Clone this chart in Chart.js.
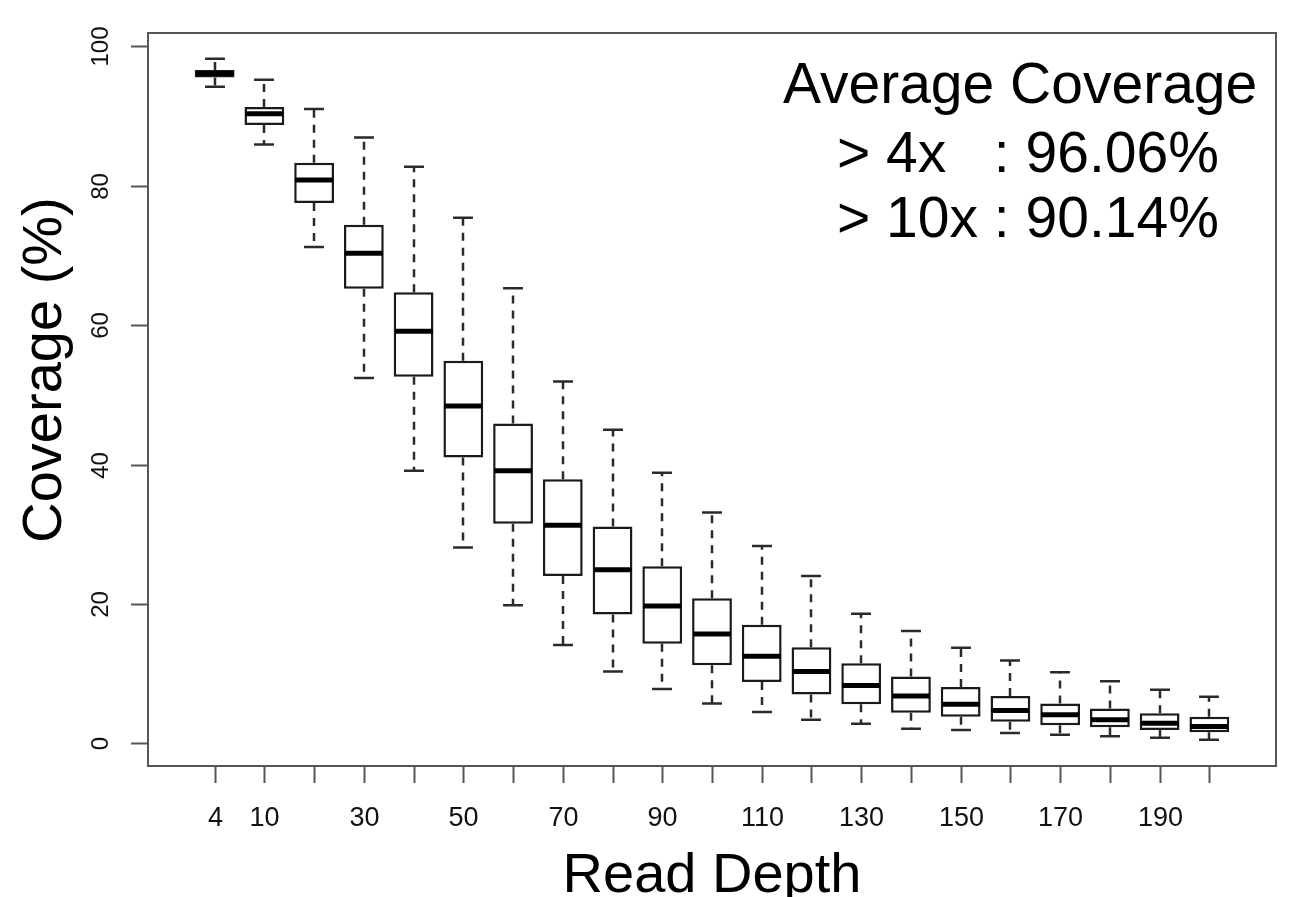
<!DOCTYPE html>
<html>
<head>
<meta charset="utf-8">
<script src="https://cdn.jsdelivr.net/npm/chart.js@4/dist/chart.umd.min.js"></script>
<style>
  html, body { margin: 0; padding: 0; background: #fff; }
  #wrap { width: 1309px; height: 897px; }
</style>
</head>
<body>
<div id="wrap"><canvas id="coverageChart" width="1309" height="897"></canvas></div>
<script>
// ------ data ------//
var depths = [4, 10, 20, 30, 40, 50, 60, 70, 80, 90, 100, 110, 120, 130, 140, 150, 160, 170, 180, 190, 200]
var xTickLabels = ['4', '10', '', '30', '', '50', '', '70', '', '90', '', '110', '', '130', '', '150', '', '170', '', '190', '']
var yTicks = [0, 20, 40, 60, 80, 100]

var whiskerLow  = [94.2, 85.9, 71.2, 52.4, 39.1, 28.1, 19.8, 14.1, 10.3, 7.8, 5.7, 4.5, 3.4, 2.8, 2.1, 1.9, 1.5, 1.25, 1.0, 0.8, 0.5]
var q1          = [95.5, 88.7, 77.5, 65.2, 52.6, 41.0, 31.5, 24.0, 18.5, 14.3, 11.2, 8.8, 7.0, 5.6, 4.4, 3.8, 3.1, 2.6, 2.3, 1.9, 1.6]
var median      = [96.1, 90.3, 80.8, 70.3, 59.1, 48.4, 39.1, 31.3, 24.9, 19.7, 15.7, 12.5, 10.3, 8.3, 6.8, 5.6, 4.7, 4.1, 3.4, 2.9, 2.4]
var q3          = [96.6, 91.3, 83.3, 74.4, 64.7, 54.9, 45.9, 37.9, 31.1, 25.4, 20.8, 17.0, 13.8, 11.5, 9.6, 8.1, 6.8, 5.7, 5.0, 4.3, 3.8]
var whiskerHigh = [98.2, 95.2, 91.0, 86.9, 82.7, 75.4, 65.3, 51.9, 45.0, 38.8, 33.1, 28.3, 24.0, 18.6, 16.1, 13.7, 11.9, 10.2, 8.9, 7.7, 6.7]

var noteLines = ['Average Coverage', '> 4x   : 96.06%', '> 10x : 90.14%']

// box positions 1..n like R's boxplot
var positions = depths.map(function (d, i) { return i + 1 })

var FONT = '"Liberation Sans", Arial, sans-serif'

// ------ whiskers, medians, frame, axes and text ------//
var boxPlotExtras = {
	id: 'boxPlotExtras',
	afterDatasetsDraw: function (chart) {
		var c = chart.ctx
		var xs = chart.scales.x
		var ys = chart.scales.y
		var area = chart.chartArea
		var bar = chart.getDatasetMeta(0).data[0]
		var halfBox = bar ? bar.width / 2 : 20
		var halfCap = halfBox / 2

		c.save()
		for (var i = 0; i < positions.length; i++) {
			var px = Math.round(xs.getPixelForValue(positions[i]))
			var yLow = ys.getPixelForValue(whiskerLow[i])
			var yQ1 = ys.getPixelForValue(q1[i])
			var yMed = ys.getPixelForValue(median[i])
			var yQ3 = ys.getPixelForValue(q3[i])
			var yHigh = ys.getPixelForValue(whiskerHigh[i])

			// dashed whiskers
			c.strokeStyle = '#2a2a2a'
			c.lineWidth = 2.5
			c.setLineDash([8, 7])
			c.beginPath()
			c.moveTo(px, yQ3); c.lineTo(px, yHigh)
			c.moveTo(px, yQ1); c.lineTo(px, yLow)
			c.stroke()

			// staples
			c.setLineDash([])
			c.beginPath()
			c.moveTo(px - halfCap, yHigh); c.lineTo(px + halfCap, yHigh)
			c.moveTo(px - halfCap, yLow); c.lineTo(px + halfCap, yLow)
			c.stroke()

			// median
			c.strokeStyle = '#000'
			c.lineWidth = 5
			c.beginPath()
			c.moveTo(px - halfBox + 1, yMed); c.lineTo(px + halfBox - 1, yMed)
			c.stroke()
		}

		// frame
		c.strokeStyle = '#555'
		c.lineWidth = 2
		c.strokeRect(area.left, area.top, area.right - area.left, area.bottom - area.top)

		// y axis ticks + rotated labels
		c.fillStyle = '#111'
		c.font = '24px ' + FONT
		c.textAlign = 'center'
		c.textBaseline = 'alphabetic'
		yTicks.forEach(function (v) {
			var py = Math.round(ys.getPixelForValue(v)) + 0.5
			c.beginPath()
			c.moveTo(area.left - 17, py); c.lineTo(area.left, py)
			c.stroke()
			c.save()
			c.translate(108, py)
			c.rotate(-Math.PI / 2)
			c.fillText(String(v), 0, 0)
			c.restore()
		})

		// x axis ticks + labels
		c.font = '27px ' + FONT
		positions.forEach(function (p, i) {
			var px = Math.round(xs.getPixelForValue(p)) + 0.5
			c.beginPath()
			c.moveTo(px, area.bottom); c.lineTo(px, area.bottom + 17)
			c.stroke()
			if (xTickLabels[i]) c.fillText(xTickLabels[i], px, 826)
		})

		// axis titles
		c.fillStyle = '#000'
		c.font = '56px ' + FONT
		c.fillText('Read Depth', (area.left + area.right) / 2, 892)
		c.save()
		c.translate(61, 370)
		c.rotate(-Math.PI / 2)
		c.fillText('Coverage (%)', 0, 0)
		c.restore()

		// annotation
		c.font = '57px ' + FONT
		c.textAlign = 'left'
		c.fillText(noteLines[0], 783, 103)
		c.fillText(noteLines[1], 837, 172)
		c.fillText(noteLines[2], 837, 237)
		c.restore()
	}
}

var ctx = document.getElementById('coverageChart')
var data = {
	datasets: [{
		label: 'Coverage',
		data: positions.map(function (p, i) { return { x: p, y: [q1[i], q3[i]] } }),
		backgroundColor: '#fff',
		borderColor: '#1a1a1a',
		borderWidth: 2.5,
		borderSkipped: false,
		barPercentage: 0.8,
		categoryPercentage: 1
	}]
}

var coverageChart = new Chart(ctx, {
	type: 'bar',
	data: data,
	options: {
		responsive: false,
		animation: false,
		layout: { padding: { left: 148, right: 33, top: 33, bottom: 131 } },
		plugins: {
			legend: { display: false },
			tooltip: { enabled: false }
		},
		scales: {
			x: { type: 'linear', min: -0.34, max: 22.34, offset: false, grid: { offset: false }, display: false },
			y: { min: -3.25, max: 101.9, display: false }
		}
	},
	plugins: [boxPlotExtras]
})
</script>
</body>
</html>
